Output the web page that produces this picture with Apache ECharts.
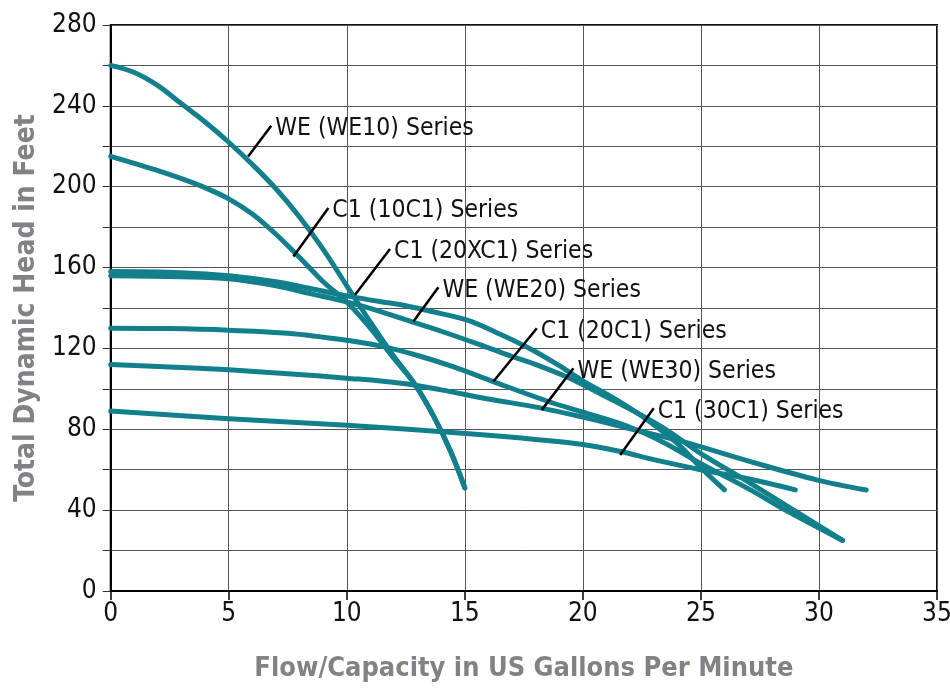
<!DOCTYPE html>
<html>
<head>
<meta charset="utf-8">
<script src="https://cdn.jsdelivr.net/npm/echarts@6/dist/echarts.min.js"></script>
<style>
html,body{margin:0;padding:0;background:#fff;}
#chart{width:950px;height:690px;}
</style>
</head>
<body>
<div id="chart"></div>
<script>
// Pump curves: [flow GPM, head ft]
const we10   = [[0,260],[1,256.5],[2,250],[3,241],[4,232],[5,222],[6,211],[7,199],[8,185],[9,169],[10,151],[11,133],[12,116],[12.9,102],[13.7,86],[14.4,69],[15,51]];
const c1_10  = [[0,215],[1,211.5],[2,208],[3,204],[4,199.5],[5,194],[6,186.5],[7,176.5],[8,165],[9,153],[10,143],[11,130],[12,115],[12.9,102],[13.7,86],[14.4,69],[15,51]];
const c1_20x = [[0,158],[3,157.5],[5,156],[7,153],[8.5,149.5],[10,146],[11.5,143],[12.3,141.6],[13.5,138.5],[15.1,134],[16.5,127],[17.9,119],[19,111.5],[20,104],[21.5,94],[22.8,84],[24,73],[25,61],[26,50]];
const we20   = [[0,156],[3,155.5],[5,154.5],[7,151],[8.5,147],[10,143],[11.5,138],[12.8,133],[14,128.5],[15.6,122],[17,116],[17.9,112.5],[19.3,106],[20.5,99],[22,90],[23.5,80],[25,68],[27,54],[29,39.5],[31,25]];
const c1_20  = [[0,130],[2.5,129.8],[5,129],[7.5,127.5],[10,124],[11.5,121],[13,116.5],[14.5,111],[16.2,103.6],[18.6,93.5],[20,88.5],[22,81],[23.5,73],[25,63],[27.1,50],[28.5,40.5],[31,25]];
const we30   = [[0,112],[2.5,110.8],[5,109.4],[7.5,107.5],[10,105.3],[12.3,102.8],[14,99.5],[16,95],[18.2,90.6],[20,86],[22.1,80],[24.2,74],[27.1,64],[29.9,55],[32,50]];
const c1_30  = [[0,89],[5,85.2],[10,82],[14.9,78],[18,75],[20,72.5],[21.6,69],[23,65],[25,60],[27,55.5],[29,50]];

const curveNames = ['WE (WE10)','C1 (10C1)','C1 (20XC1)','WE (WE20)','C1 (20C1)','WE (WE30)','C1 (30C1)'];
const curves = [we10, c1_10, c1_20x, we20, c1_20, we30, c1_30];

// Callout labels and leader endpoints (data coords)
const labelTexts = ['WE (WE10) Series','C1 (10C1) Series','C1 (20XC1) Series','WE (WE20) Series','C1 (20C1) Series','WE (WE30) Series','C1 (30C1) Series'];
const leaderFrom = [[5.82,214.9],[7.74,165.5],[10.35,146.5],[12.82,133.3],[16.21,103.6],[18.26,89.6],[21.58,67.3]];
const leaderTo   = [[6.80,230.2],[9.22,189.5],[11.83,169.2],[13.88,150.3],[18.05,130.0],[19.60,110.2],[23.0,90.4]];

const xTicks = {min:0, max:35, step:5};
const yTicks = {min:0, max:280, step:20, labelStep:40};

const FONT = "'Liberation Sans Narrow','DejaVu Sans Condensed','Roboto Condensed',sans-serif";
const TEAL = '#12808c';

const series = [];
curves.forEach((d,i)=>{
  series.push({
    name: curveNames[i], type:'line', data:d, smooth:0.35, symbol:'none', z:2,
    lineStyle:{color:TEAL, width:5, cap:'round', join:'round'}
  });
});
labelTexts.forEach((t,i)=>{
  series.push({
    type:'line', data:[leaderFrom[i], leaderTo[i]], symbol:'none', z:4,
    lineStyle:{color:'#000', width:2.5},
    endLabel:{show:true, formatter:t, color:'#111', distance:4, offset:[0,3],
      fontFamily:FONT, fontSize:24.5}
  });
});

const chart = echarts.init(document.getElementById('chart'), null, {renderer:'canvas'});
chart.setOption({
  animation:false,
  grid:{left:110.7, right:13, top:25, bottom:99, outerBoundsMode:'none', containLabel:false,
        show:true, borderColor:'#111', borderWidth:2, backgroundColor:'transparent'},
  xAxis:{
    type:'value', min:xTicks.min, max:xTicks.max, interval:xTicks.step,
    name:'Flow/Capacity in US Gallons Per Minute', nameLocation:'middle', nameGap:64,
    nameTextStyle:{color:'#808285', fontFamily:FONT, fontWeight:'bold', fontSize:27},
    axisLine:{lineStyle:{color:'#000', width:2}},
    axisTick:{show:true, inside:false, length:9, lineStyle:{color:'#000', width:1.5}},
    axisLabel:{color:'#111', fontFamily:FONT, fontSize:26, margin:10},
    splitLine:{show:true, lineStyle:{color:'#555', width:1}}
  },
  yAxis:{
    type:'value', min:yTicks.min, max:yTicks.max, interval:yTicks.step,
    name:'Total Dynamic Head in Feet', nameLocation:'middle', nameGap:62,
    nameTextStyle:{color:'#808285', fontFamily:FONT, fontWeight:'bold', fontSize:28},
    axisLine:{show:true, lineStyle:{color:'#000', width:2}},
    axisTick:{show:true, inside:false, length:8, lineStyle:{color:'#333', width:1}},
    axisLabel:{color:'#111', fontFamily:FONT, fontSize:26, margin:14,
      formatter:v=> (v % yTicks.labelStep === 0 ? String(v) : '')},
    splitLine:{show:true, lineStyle:{color:'#555', width:1}}
  },
  series: series
});
</script>
</body>
</html>
